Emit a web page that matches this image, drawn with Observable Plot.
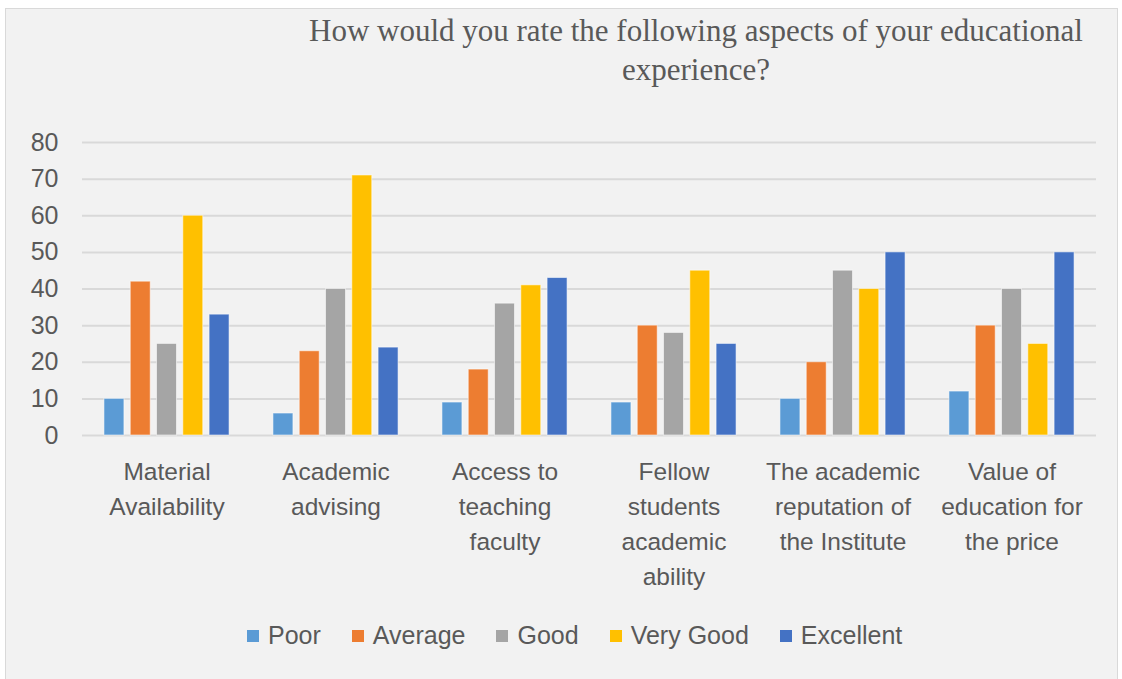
<!DOCTYPE html>
<html>
<head>
<meta charset="utf-8">
<script src="https://cdn.jsdelivr.net/npm/d3@7"></script>
<script src="https://cdn.jsdelivr.net/npm/@observablehq/plot@0.6"></script>
<style>
  html, body { margin: 0; padding: 0; background: #ffffff; width: 1122px; height: 679px; overflow: hidden; }
  #panel { position: absolute; left: 5px; top: 8px; width: 1113px; height: 675px; background: #f2f2f2; border: 1px solid #d9d9d9; box-sizing: border-box; }
  #title { position: absolute; left: 246px; top: 11px; width: 900px; text-align: center; font-family: "Liberation Serif", "Times New Roman", serif; font-size: 31px; line-height: 39px; color: #595959; }
  #chart { position: absolute; left: 0; top: 0; }
  #legend { position: absolute; left: 247px; top: 621px; display: flex; align-items: center; font-family: "Liberation Sans", Arial, sans-serif; font-size: 25px; color: #595959; }
  .item { display: flex; align-items: center; margin-right: 31px; }
  .sw { width: 12px; height: 12px; margin-right: 9px; }
</style>
</head>
<body>
<div id="panel"></div>
<div id="chart"></div>
<div id="title">How would you rate the following aspects of your educational<br>experience?</div>
<div id="legend"></div>
<script>
const categories = [
  "Material Availability",
  "Academic advising",
  "Access to teaching faculty",
  "Fellow students academic ability",
  "The academic reputation of the Institute",
  "Value of education for the price"
];
const categoryLabels = [
  "Material\nAvailability",
  "Academic\nadvising",
  "Access to\nteaching\nfaculty",
  "Fellow\nstudents\nacademic\nability",
  "The academic\nreputation of\nthe Institute",
  "Value of\neducation for\nthe price"
];
const ratings = ["Poor", "Average", "Good", "Very Good", "Excellent"];
const colors = ["#5b9bd5", "#ed7d31", "#a5a5a5", "#ffc000", "#4472c4"];
const poor      = [10, 6, 9, 9, 10, 12];
const average   = [42, 23, 18, 30, 20, 30];
const good      = [25, 40, 36, 28, 45, 40];
const veryGood  = [60, 71, 41, 45, 40, 25];
const excellent = [33, 24, 43, 25, 50, 50];
const yTicks = [0, 10, 20, 30, 40, 50, 60, 70, 80];

const series = [poor, average, good, veryGood, excellent];
const rows = [];
categories.forEach((c, i) => {
  ratings.forEach((r, j) => rows.push({category: c, rating: r, value: series[j][i]}));
});

const chart = Plot.plot({
  width: 1122,
  height: 600,
  marginTop: 142,
  marginBottom: 165,
  marginLeft: 82,
  marginRight: 26,
  style: {background: "transparent", color: "#595959", fontFamily: "Liberation Sans, Arial, sans-serif", fontSize: "25px", overflow: "visible"},
  fx: {domain: categories, padding: 0, round: false, axis: null},
  x: {domain: ratings, paddingInner: 0.24, paddingOuter: 0.835, round: false, axis: null},
  y: {domain: [0, 80], ticks: yTicks, tickSize: 0, tickPadding: 24, label: null, tickFormat: d => String(d)},
  color: {domain: ratings, range: colors},
  marks: [
    Plot.ruleY(yTicks, {stroke: "#d9d9d9", strokeWidth: 2}),
    Plot.barY(rows, {fx: "category", x: "rating", y: "value", fill: "rating", stroke: "#ffffff", strokeOpacity: 0.55, strokeWidth: 1}),
    Plot.text(categories, {fx: d => d, text: (d, i) => categoryLabels[i], frameAnchor: "bottom", lineAnchor: "top", dy: 20, lineHeight: 1.42, fontSize: 24.5, fill: "#595959"})
  ]
});
document.getElementById("chart").appendChild(chart);

const legend = document.getElementById("legend");
ratings.forEach((r, i) => {
  const item = document.createElement("div");
  item.className = "item";
  const sw = document.createElement("div");
  sw.className = "sw";
  sw.style.background = colors[i];
  const t = document.createElement("span");
  t.textContent = r;
  item.appendChild(sw);
  item.appendChild(t);
  legend.appendChild(item);
});
</script>
</body>
</html>
